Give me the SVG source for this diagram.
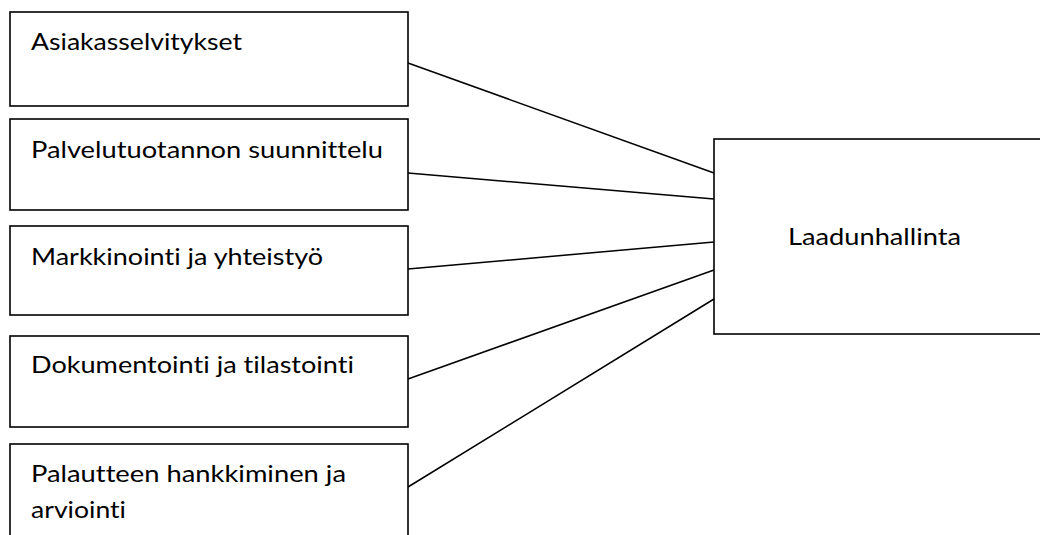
<svg xmlns="http://www.w3.org/2000/svg" width="1040" height="535" viewBox="0 0 1040 535">
<style>
.box{fill:#fff;stroke:#000;stroke-width:1.6}
.lbl{font-family:Lato,"Open Sans","Liberation Sans",sans-serif;font-size:23px;fill:#000;font-variant-ligatures:none;font-feature-settings:"liga" 0,"dlig" 0}
.con line{stroke:#000;stroke-width:1.5}
</style>
<rect width="1040" height="535" fill="#fff"/>
<g class="con" id="connectors">
<line x1="408" y1="63" x2="714" y2="173"/>
<line x1="408" y1="173" x2="714" y2="199"/>
<line x1="408" y1="269" x2="714" y2="242"/>
<line x1="408" y1="379" x2="714" y2="270"/>
<line x1="408" y1="487" x2="714" y2="299"/>
</g>
<g id="n1"><rect class="box" x="10" y="12" width="398" height="94"/><text class="lbl" x="31" y="50" textLength="211" lengthAdjust="spacingAndGlyphs">Asiakasselvitykset</text></g>
<g id="n2"><rect class="box" x="10" y="119" width="398" height="91"/><text class="lbl" x="31" y="158" textLength="352" lengthAdjust="spacingAndGlyphs">Palvelutuotannon suunnittelu</text></g>
<g id="n3"><rect class="box" x="10" y="226" width="398" height="89"/><text class="lbl" x="31" y="265" textLength="292" lengthAdjust="spacingAndGlyphs">Markkinointi ja yhteistyö</text></g>
<g id="n4"><rect class="box" x="10" y="336" width="398" height="91"/><text class="lbl" x="31" y="373" textLength="323" lengthAdjust="spacingAndGlyphs">Dokumentointi ja tilastointi</text></g>
<g id="n5"><rect class="box" x="10" y="444" width="398" height="100"/><text class="lbl" x="31" y="482" textLength="315" lengthAdjust="spacingAndGlyphs">Palautteen hankkiminen ja</text><text class="lbl" x="31" y="518" textLength="95" lengthAdjust="spacingAndGlyphs">arviointi</text></g>
<g id="n6"><rect class="box" x="714" y="139" width="340" height="195"/><text class="lbl" x="788" y="245" textLength="173" lengthAdjust="spacingAndGlyphs">Laadunhallinta</text></g>
</svg>
